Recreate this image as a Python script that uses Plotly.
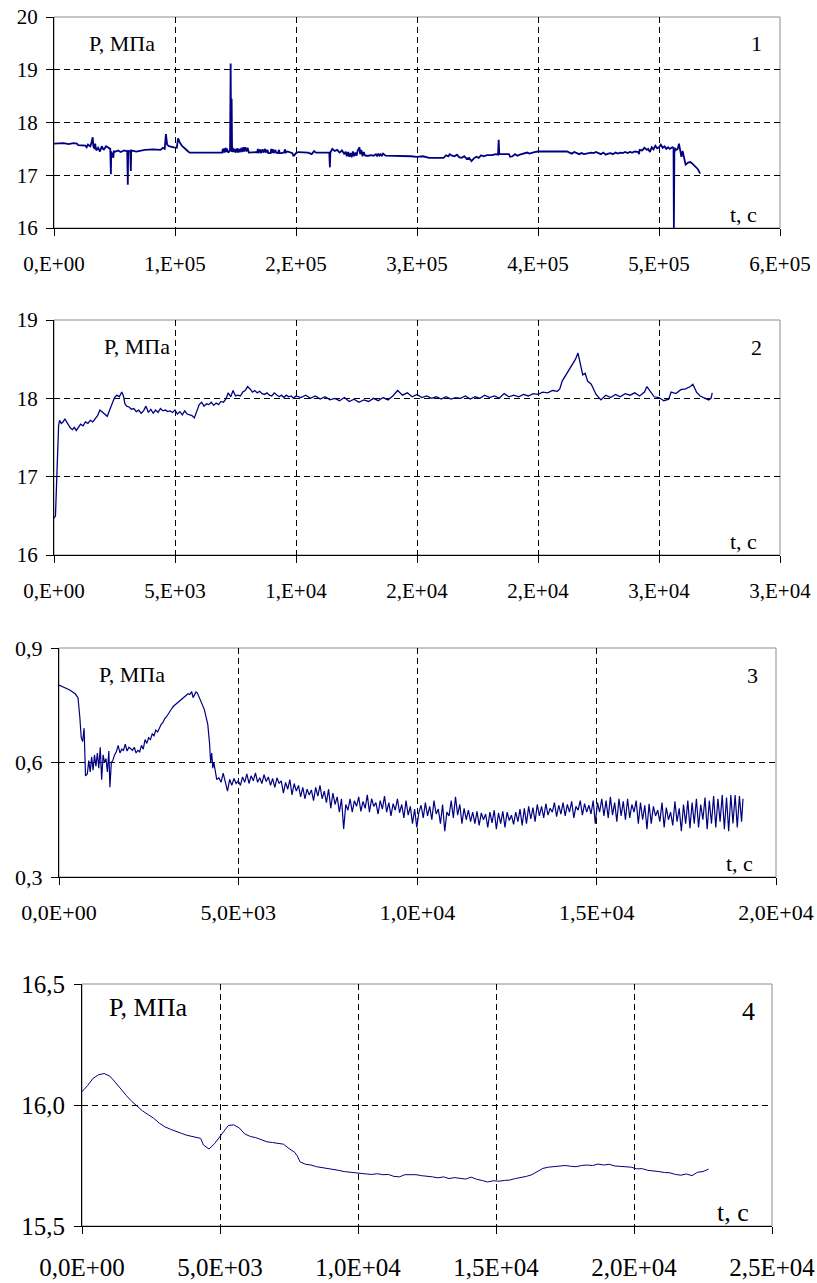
import plotly.graph_objects as go

# ---------------- data ----------------
# Chart 1: time, s / pressure, MPa
T1 = [0, 8000, 12000, 16000, 19000, 20000, 26000, 27000, 28000, 30000,
      31000, 32000, 32500, 33500, 34000, 35000, 36500, 38000, 39500, 41000,
      43000, 45000, 46500, 47000, 47300, 48500, 49000, 49500, 51000, 53000,
      55000, 58000, 60500, 61000, 61300, 63000, 63500, 63800, 68000, 75000,
      82000, 88000, 90000, 91500, 92500, 93500, 95000, 99000, 101500, 102500,
      104000, 106000, 108000, 110000, 112000, 120000, 130000, 139000, 139500, 140000,
      140500, 141000, 142000, 142500, 143000, 144000, 145500, 146000, 146400, 146800,
      147200, 148000, 148500, 149500, 150000, 151500, 152000, 153000, 153500, 155000,
      155500, 156500, 157000, 158000, 159000, 160000, 161000, 165000, 168000, 168500,
      169000, 170500, 171000, 172500, 173000, 174500, 175000, 176500, 177000, 179000,
      179500, 180000, 181000, 181500, 183000, 183500, 185000, 186000, 186500, 188000,
      190000, 191000, 191500, 193000, 195000, 197000, 198000, 200000, 202000, 206000,
      210000, 213000, 215000, 216500, 219000, 223000, 227500, 228000, 228400, 230000,
      232000, 234000, 236000, 238000, 240000, 241000, 242000, 243000, 244000, 245000,
      246000, 247000, 248000, 249000, 250000, 251000, 252000, 252500, 253000, 254000,
      255000, 256000, 257000, 258000, 260000, 262000, 264000, 266000, 267000, 268000,
      269000, 270000, 271000, 272000, 274000, 276000, 280000, 286000, 290000, 295000,
      300000, 305000, 310000, 318000, 322000, 324000, 326000, 327000, 329000, 331000,
      333000, 335000, 337000, 339000, 341000, 343000, 345000, 347000, 349000, 351000,
      353000, 355000, 358000, 362000, 365000, 367000, 367500, 368000, 372000, 376000,
      377000, 379000, 381000, 383000, 385000, 387000, 389000, 391000, 393000, 395000,
      397000, 400000, 405000, 410000, 415000, 420000, 424000, 426000, 428000, 430000,
      432000, 434000, 436000, 438000, 440000, 442000, 444000, 446000, 448000, 450000,
      452000, 454000, 456000, 458000, 460000, 462000, 464000, 466000, 468000, 470000,
      472000, 474000, 476000, 478000, 480000, 483000, 483500, 484000, 486000, 488000,
      490000, 491000, 492500, 494000, 495500, 497000, 498500, 500000, 501500, 503000,
      504500, 506000, 507500, 509000, 511000, 512000, 512300, 512700, 513500, 514500,
      515500, 516500, 517500, 518500, 519500, 521000, 522000, 524000, 526000, 528000,
      530000, 532000, 534000]
P1 = [17.60, 17.61, 17.59, 17.61, 17.60, 17.57, 17.56, 17.53, 17.58, 17.55,
      17.62, 17.72, 17.55, 17.50, 17.60, 17.47, 17.52, 17.45, 17.55, 17.48,
      17.55, 17.52, 17.50, 17.02, 17.45, 17.38, 17.33, 17.45, 17.45, 17.47,
      17.44, 17.47, 17.45, 16.82, 17.46, 17.45, 17.08, 17.47, 17.45, 17.48,
      17.49, 17.48, 17.52, 17.50, 17.78, 17.58, 17.55, 17.53, 17.52, 17.70,
      17.62, 17.55, 17.50, 17.47, 17.43, 17.43, 17.43, 17.43, 17.50, 17.43,
      17.51, 17.43, 17.52, 17.44, 17.50, 17.43, 17.47, 19.12, 17.45, 18.45,
      17.44, 17.52, 17.44, 17.50, 17.43, 17.51, 17.43, 17.50, 17.44, 17.52,
      17.44, 17.53, 17.45, 17.53, 17.45, 17.52, 17.43, 17.43, 17.44, 17.50,
      17.42, 17.49, 17.42, 17.49, 17.43, 17.50, 17.43, 17.48, 17.42, 17.42,
      17.50, 17.43, 17.49, 17.42, 17.48, 17.43, 17.42, 17.48, 17.42, 17.42,
      17.43, 17.49, 17.43, 17.45, 17.43, 17.42, 17.36, 17.42, 17.44, 17.43,
      17.43, 17.40, 17.46, 17.43, 17.43, 17.43, 17.43, 17.15, 17.43, 17.50,
      17.46, 17.48, 17.43, 17.47, 17.40, 17.45, 17.36, 17.44, 17.35, 17.42,
      17.34, 17.45, 17.36, 17.43, 17.37, 17.47, 17.50, 17.53, 17.40, 17.48,
      17.36, 17.44, 17.38, 17.37, 17.37, 17.38, 17.37, 17.40, 17.36, 17.41,
      17.37, 17.40, 17.37, 17.41, 17.37, 17.37, 17.36, 17.37, 17.37, 17.36,
      17.35, 17.36, 17.33, 17.33, 17.33, 17.38, 17.36, 17.40, 17.37, 17.36,
      17.39, 17.34, 17.33, 17.36, 17.31, 17.33, 17.27, 17.32, 17.35, 17.33,
      17.38, 17.36, 17.38, 17.38, 17.40, 17.39, 17.67, 17.40, 17.40, 17.40,
      17.35, 17.36, 17.40, 17.37, 17.39, 17.40, 17.42, 17.43, 17.41, 17.43,
      17.44, 17.45, 17.45, 17.45, 17.45, 17.45, 17.45, 17.43, 17.41, 17.44,
      17.42, 17.40, 17.42, 17.40, 17.41, 17.42, 17.43, 17.42, 17.44, 17.42,
      17.40, 17.43, 17.39, 17.41, 17.42, 17.40, 17.43, 17.41, 17.43, 17.42,
      17.44, 17.42, 17.44, 17.43, 17.45, 17.44, 17.40, 17.48, 17.47, 17.52,
      17.48, 17.50, 17.44, 17.53, 17.49, 17.56, 17.51, 17.53, 17.58, 17.52,
      17.55, 17.50, 17.53, 17.50, 17.53, 17.52, 16.00, 17.43, 17.50, 17.48,
      17.50, 17.60, 17.42, 17.35, 17.46, 17.28, 17.20, 17.24, 17.25, 17.21,
      17.17, 17.12, 17.03]

# Chart 2
T2 = [0, 60, 100, 130, 160, 190, 230, 300, 380, 450,
      520, 600, 680, 760, 840, 920, 1000, 1100, 1200, 1300,
      1400, 1500, 1600, 1700, 1800, 1900, 2000, 2100, 2200, 2300,
      2400, 2500, 2600, 2700, 2800, 2870, 2930, 3000, 3100, 3200,
      3300, 3400, 3500, 3600, 3700, 3800, 3900, 4000, 4100, 4200,
      4300, 4400, 4500, 4600, 4700, 4800, 4900, 5000, 5100, 5200,
      5300, 5400, 5500, 5600, 5700, 5800, 5900, 6000, 6100, 6200,
      6300, 6400, 6500, 6600, 6700, 6800, 6900, 7000, 7100, 7200,
      7300, 7400, 7500, 7600, 7700, 7800, 7900, 8000, 8100, 8200,
      8300, 8400, 8500, 8600, 8700, 8800, 8900, 9000, 9100, 9200,
      9300, 9400, 9500, 9600, 9700, 9800, 9900, 10000,
      10200, 10400, 10600, 10800, 11000, 11200, 11400, 11600, 11800, 12000,
      12200, 12400, 12600, 12800, 13000, 13200, 13400, 13600, 13800, 14000,
      14200, 14400, 14600, 14800, 15000, 15200, 15400, 15600, 15800, 16000,
      16200, 16400, 16600, 16800, 17000, 17200, 17400, 17600, 17800, 18000,
      18200, 18400, 18600, 18800, 19000, 19200, 19400, 19600, 19800, 20000,
      20200, 20400, 20600, 20800, 20900, 21000, 21200, 21400, 21550, 21650,
      21750, 21850, 21950, 22050, 22200, 22400, 22600, 22800, 23000, 23200,
      23400, 23600, 23800, 24000, 24200, 24400, 24500, 24650, 24800, 25000,
      25200, 25400, 25500, 25700, 25900, 26100, 26300, 26400, 26550, 26700,
      26900, 27050, 27150, 27200]
P2 = [16.47, 16.50, 16.85, 17.10, 17.25, 17.65, 17.72, 17.68, 17.70, 17.74,
      17.70, 17.66, 17.62, 17.60, 17.63, 17.59, 17.62, 17.67, 17.65, 17.70,
      17.68, 17.72, 17.70, 17.74, 17.78, 17.85, 17.82, 17.79, 17.77, 17.85,
      17.92, 18.01, 18.04, 18.02, 18.08, 18.03, 17.93, 17.90, 17.89, 17.86,
      17.87, 17.83, 17.85, 17.81, 17.84, 17.90, 17.82, 17.86, 17.81, 17.85,
      17.82, 17.87, 17.84, 17.85, 17.83, 17.84, 17.82, 17.85, 17.80, 17.83,
      17.79, 17.84, 17.80, 17.79, 17.78, 17.75, 17.84, 17.92, 17.95, 17.90,
      17.93, 17.92, 17.95, 17.91, 17.94, 17.92, 17.96, 17.95, 17.99, 18.07,
      18.02, 18.10, 18.03, 18.04, 18.03, 18.08, 18.10, 18.15, 18.12, 18.08,
      18.10, 18.07, 18.09, 18.06, 18.05, 18.07, 18.04, 18.03, 18.07, 18.05,
      18.02, 18.04, 18.01, 18.04, 18.02, 18.03, 18.00, 18.03,
      18.01, 18.04, 18.00, 18.03, 17.99, 18.02, 17.98, 18.00, 17.97, 18.01,
      17.96, 17.99, 17.95, 17.98, 17.96, 18.00, 17.97, 18.01, 17.98, 18.03,
      18.10, 18.04, 18.07, 18.02, 18.05, 18.01, 18.03, 18.00, 18.02, 17.99,
      18.02, 17.99, 18.01, 18.00, 18.03, 17.99, 18.02, 18.00, 18.04, 18.01,
      18.03, 18.00, 18.06, 18.02, 18.04, 18.02, 18.05, 18.03, 18.06, 18.05,
      18.08, 18.07, 18.10, 18.09, 18.12, 18.22, 18.32, 18.42, 18.50, 18.58,
      18.45, 18.30, 18.32, 18.22, 18.18, 18.05, 17.98, 18.04, 18.01, 18.05,
      18.02, 18.06, 18.04, 18.07, 18.03, 18.08, 18.15, 18.09, 18.02, 18.01,
      17.97, 17.99, 18.08, 18.06, 18.11, 18.12, 18.15, 18.18, 18.08, 18.03,
      18.00, 17.98, 18.00, 18.07]

# Chart 3
T3 = [0, 150, 300, 450, 530, 580, 620, 660, 700, 740,
      790, 830, 870, 910, 950, 990, 1030, 1070, 1110, 1150,
      1190, 1230, 1270, 1310, 1350, 1390, 1420, 1460, 1500, 1550,
      1600, 1650, 1700, 1750, 1800, 1850, 1900, 1950, 2000, 2050,
      2100, 2150, 2200, 2250, 2300, 2350, 2400, 2450, 2500, 2550,
      2600, 2650, 2700, 2750, 2800, 2850, 2900, 2950, 3000, 3050,
      3100, 3150, 3200, 3250, 3300, 3350, 3400, 3450, 3500, 3550,
      3600, 3650, 3700, 3740, 3780, 3820, 3860, 3900, 3950, 4000,
      4050, 4100, 4150, 4200, 4230, 4260, 4290, 4320, 4360, 4400,
      4460, 4520, 4580, 4640, 4700, 4760, 4820, 4880, 4940, 5000,
      5060, 5120, 5180, 5240, 5300, 5360, 5420, 5480, 5540, 5600,
      5660, 5720, 5780, 5840, 5900, 5960, 6020, 6080, 6140, 6200,
      6260, 6320, 6380, 6440, 6500, 6560, 6620, 6680, 6740, 6800,
      6860, 6920, 6980, 7040, 7100, 7160, 7220, 7280, 7340, 7400,
      7460, 7520, 7580, 7640, 7700, 7760, 7820, 7880, 7940, 8000,
      8060, 8120, 8180, 8240, 8300, 8360, 8420, 8480, 8540, 8600,
      8660, 8720, 8780, 8840, 8900, 8960, 9020, 9080, 9140, 9200,
      9260, 9320, 9380, 9440, 9500, 9560, 9620, 9680, 9740, 9800,
      9860, 9920, 9980, 10040, 10100, 10160, 10220, 10280, 10340, 10400,
      10460, 10520, 10580, 10640, 10700, 10760, 10820, 10880, 10940, 11000,
      11060, 11120, 11180, 11240, 11300, 11360, 11420, 11480, 11540, 11600,
      11660, 11720, 11780, 11840, 11900, 11960, 12020, 12080, 12140, 12200,
      12260, 12320, 12380, 12440, 12500, 12560, 12620, 12680, 12740, 12800,
      12860, 12920, 12980, 13040, 13100, 13160, 13220, 13280, 13340, 13400,
      13460, 13520, 13580, 13640, 13700, 13760, 13820, 13880, 13940, 14000,
      14060, 14120, 14180, 14240, 14300, 14360, 14420, 14480, 14540, 14600,
      14660, 14720, 14780, 14840, 14900, 14960, 15020, 15080, 15140, 15200,
      15260, 15320, 15380, 15440, 15500, 15560, 15620, 15680, 15740, 15800,
      15860, 15920, 15980, 16040, 16100, 16160, 16220, 16280, 16340, 16400,
      16460, 16520, 16580, 16640, 16700, 16760, 16820, 16880, 16940, 17000,
      17060, 17120, 17180, 17240, 17300, 17360, 17420, 17480, 17540, 17600,
      17660, 17720, 17780, 17840, 17900, 17960, 18020, 18080, 18140, 18200,
      18260, 18320, 18380, 18440, 18500, 18560, 18620, 18680, 18740, 18800,
      18860, 18920, 18980, 19040, 19080]
P3 = [0.803, 0.797, 0.790, 0.780, 0.770, 0.720, 0.665, 0.655, 0.690, 0.565,
      0.570, 0.605, 0.575, 0.615, 0.580, 0.620, 0.590, 0.625, 0.585, 0.640,
      0.555, 0.620, 0.600, 0.610, 0.575, 0.630, 0.535, 0.600, 0.605, 0.620,
      0.628, 0.645, 0.625, 0.635, 0.632, 0.648, 0.630, 0.640, 0.636, 0.632,
      0.640, 0.625, 0.632, 0.628, 0.645, 0.635, 0.660, 0.650, 0.665, 0.660,
      0.675, 0.670, 0.685, 0.680, 0.690, 0.700, 0.705, 0.715, 0.720, 0.728,
      0.735, 0.742, 0.748, 0.752, 0.758, 0.760, 0.765, 0.768, 0.772, 0.778,
      0.780, 0.778, 0.786, 0.770, 0.780, 0.785, 0.782, 0.772, 0.760, 0.752,
      0.740, 0.720, 0.700, 0.650, 0.600, 0.625, 0.585, 0.600, 0.570, 0.555,
      0.560, 0.548, 0.572, 0.552, 0.525, 0.556, 0.540, 0.558, 0.545, 0.552,
      0.540, 0.562, 0.548, 0.570, 0.545, 0.565, 0.552, 0.573, 0.548, 0.560,
      0.545, 0.568, 0.550, 0.562, 0.540, 0.558, 0.535, 0.560, 0.545, 0.552,
      0.520, 0.548, 0.530, 0.555, 0.515, 0.545, 0.525, 0.540, 0.510, 0.535,
      0.505, 0.530, 0.515, 0.528, 0.500, 0.535, 0.512, 0.540, 0.505, 0.525,
      0.495, 0.530, 0.480, 0.520, 0.490, 0.510, 0.470, 0.505, 0.426, 0.490,
      0.475, 0.505, 0.470, 0.500, 0.485, 0.510, 0.472, 0.498, 0.480, 0.515,
      0.470, 0.505, 0.485, 0.495, 0.465, 0.500, 0.478, 0.512, 0.470, 0.495,
      0.460, 0.492, 0.475, 0.505, 0.468, 0.490, 0.455, 0.500, 0.462, 0.485,
      0.440, 0.478, 0.430, 0.470, 0.488, 0.455, 0.495, 0.460, 0.485, 0.450,
      0.500, 0.465, 0.478, 0.440, 0.490, 0.420, 0.470, 0.460, 0.500, 0.455,
      0.510, 0.462, 0.490, 0.440, 0.480, 0.450, 0.475, 0.445, 0.470, 0.440,
      0.472, 0.435, 0.468, 0.450, 0.465, 0.430, 0.470, 0.442, 0.475, 0.425,
      0.468, 0.440, 0.472, 0.430, 0.470, 0.448, 0.462, 0.438, 0.470, 0.445,
      0.478, 0.435, 0.480, 0.440, 0.485, 0.452, 0.482, 0.445, 0.490, 0.460,
      0.485, 0.455, 0.492, 0.462, 0.480, 0.470, 0.495, 0.458, 0.488, 0.465,
      0.495, 0.460, 0.490, 0.470, 0.498, 0.455, 0.485, 0.475, 0.500, 0.462,
      0.492, 0.470, 0.488, 0.465, 0.500, 0.440, 0.495, 0.470, 0.505, 0.460,
      0.500, 0.455, 0.510, 0.462, 0.495, 0.445, 0.505, 0.460, 0.498, 0.450,
      0.505, 0.455, 0.490, 0.470, 0.500, 0.440, 0.495, 0.450, 0.488, 0.425,
      0.492, 0.440, 0.485, 0.460, 0.475, 0.445, 0.495, 0.430, 0.482, 0.450,
      0.470, 0.435, 0.498, 0.445, 0.480, 0.420, 0.490, 0.440, 0.500, 0.428,
      0.495, 0.440, 0.505, 0.430, 0.490, 0.450, 0.508, 0.425, 0.500, 0.440,
      0.512, 0.430, 0.505, 0.445, 0.515, 0.425, 0.508, 0.420, 0.515, 0.440,
      0.515, 0.430, 0.512, 0.445, 0.505]

# Chart 4
T4 = [0, 200, 400, 600, 800, 1000, 1200, 1400, 1600, 1800,
      2000, 2200, 2400, 2600, 2800, 3000, 3200, 3400, 3600, 3800,
      4000, 4200, 4300, 4400, 4600, 4800, 5000, 5200, 5300, 5500,
      5700, 5900, 6100, 6300, 6500, 6700, 6900, 7100, 7300, 7500,
      7700, 7800, 7900, 8100, 8300, 8500, 8700, 8900, 9100, 9300,
      9500, 9700, 9900, 10100, 10300, 10500, 10700, 10900, 11100, 11300,
      11500, 11700, 11900, 12100, 12300, 12500, 12700, 12900, 13100, 13300,
      13500, 13700, 13900, 14100, 14300, 14500, 14700, 14900, 15100, 15300,
      15500, 15700, 15900, 16100, 16300, 16500, 16700, 16900, 17100, 17300,
      17500, 17700, 17900, 18100, 18300, 18500, 18700, 18900, 19100, 19300,
      19500, 19700, 19900, 20100, 20300, 20500, 20700, 20900, 21100, 21300,
      21500, 21700, 21900, 22100, 22300, 22500, 22700]
P4 = [16.055, 16.080, 16.110, 16.125, 16.130, 16.120, 16.095, 16.065, 16.040, 16.015,
      15.995, 15.975, 15.960, 15.945, 15.925, 15.910, 15.900, 15.890, 15.883, 15.875,
      15.870, 15.865, 15.862, 15.835, 15.818, 15.840, 15.870, 15.895, 15.915, 15.918,
      15.905, 15.880, 15.870, 15.865, 15.858, 15.848, 15.845, 15.843, 15.838, 15.820,
      15.805, 15.790, 15.765, 15.755, 15.752, 15.745, 15.742, 15.738, 15.733, 15.730,
      15.725, 15.722, 15.718, 15.717, 15.715, 15.713, 15.716, 15.712, 15.713, 15.705,
      15.703, 15.712, 15.713, 15.712, 15.708, 15.707, 15.703, 15.699, 15.703, 15.696,
      15.700, 15.697, 15.694, 15.702, 15.693, 15.688, 15.682, 15.687, 15.685, 15.688,
      15.690, 15.696, 15.700, 15.705, 15.712, 15.725, 15.738, 15.743, 15.745, 15.748,
      15.750, 15.747, 15.745, 15.750, 15.752, 15.750, 15.756, 15.752, 15.755, 15.748,
      15.746, 15.742, 15.743, 15.736, 15.737, 15.730, 15.729, 15.725, 15.721, 15.720,
      15.713, 15.710, 15.715, 15.708, 15.722, 15.725, 15.735]

# Tick labels
X1_TICKS = [0, 100000, 200000, 300000, 400000, 500000, 600000]
X1_TEXT = ["0,E+00", "1,E+05", "2,E+05", "3,E+05", "4,E+05", "5,E+05", "6,E+05"]
X2_TICKS = [0, 5000, 10000, 15000, 20000, 25000, 30000]
X2_TEXT = ["0,E+00", "5,E+03", "1,E+04", "2,E+04", "2,E+04", "3,E+04", "3,E+04"]
X3_TICKS = [0, 5000, 10000, 15000, 20000]
X3_TEXT = ["0,0E+00", "5,0E+03", "1,0E+04", "1,5E+04", "2,0E+04"]
X4_TICKS = [0, 5000, 10000, 15000, 20000, 25000]
X4_TEXT = ["0,0E+00", "5,0E+03", "1,0E+04", "1,5E+04", "2,0E+04", "2,5E+04"]
Y1_TICKS = [16, 17, 18, 19, 20]
Y1_TEXT = ["16", "17", "18", "19", "20"]
Y2_TICKS = [16, 17, 18, 19]
Y2_TEXT = ["16", "17", "18", "19"]
Y3_TICKS = [0.3, 0.6, 0.9]
Y3_TEXT = ["0,3", "0,6", "0,9"]
Y4_TICKS = [15.5, 16.0, 16.5]
Y4_TEXT = ["15,5", "16,0", "16,5"]

for a, b in [(T1, P1), (T2, P2), (T3, P3), (T4, P4)]:
    if len(a) != len(b):
        raise ValueError(f"length mismatch {len(a)} vs {len(b)}")

# ---------------- figure ----------------
W, H = 817, 1283
FONT = "Liberation Serif"
LINE = "#000080"

panels = [
    dict(px=(54, 780), py=(17, 228), xr=[0, 600000], yr=[16, 20], xt=X1_TICKS, xtt=X1_TEXT,
         yt=Y1_TICKS, ytt=Y1_TEXT, fs=21, afs=22, so=10, lw=1.8, t=T1, p=P1, num="1"),
    dict(px=(54, 780), py=(320, 555), xr=[0, 30000], yr=[16, 19], xt=X2_TICKS, xtt=X2_TEXT,
         yt=Y2_TICKS, ytt=Y2_TEXT, fs=21, afs=22, so=10, lw=1.3, t=T2, p=P2, num="2"),
    dict(px=(59, 776), py=(648, 877), xr=[0, 20000], yr=[0.3, 0.9], xt=X3_TICKS, xtt=X3_TEXT,
         yt=Y3_TICKS, ytt=Y3_TEXT, fs=22, afs=22, so=9, lw=1.2, t=T3, p=P3, num="3"),
    dict(px=(82, 772), py=(984, 1226), xr=[0, 25000], yr=[15.5, 16.5], xt=X4_TICKS, xtt=X4_TEXT,
         yt=Y4_TICKS, ytt=Y4_TEXT, fs=25, afs=26, so=12, lw=1.0, t=T4, p=P4, num="4"),
]

fig = go.Figure()
layout = dict(width=W, height=H, margin=dict(l=0, r=0, t=0, b=0),
              paper_bgcolor="white", plot_bgcolor="white", showlegend=False,
              font=dict(family=FONT, color="black"))
annotations = []
shapes = []
for i, pn in enumerate(panels, start=1):
    xa = "xaxis" if i == 1 else f"xaxis{i}"
    ya = "yaxis" if i == 1 else f"yaxis{i}"
    xref = "x" if i == 1 else f"x{i}"
    yref = "y" if i == 1 else f"y{i}"
    x0, x1 = pn["px"]
    yt_, yb_ = pn["py"]
    fig.add_trace(go.Scatter(x=pn["t"], y=pn["p"], mode="lines", xaxis=xref, yaxis=yref,
                             line=dict(color=LINE, width=pn["lw"]), hoverinfo="skip"))
    grid = dict(showgrid=True, gridcolor="black", gridwidth=1, griddash="6px,4px", ticks="")
    layout[xa] = dict(domain=[x0 / W, x1 / W], anchor=yref, range=pn["xr"],
                      tickmode="array", tickvals=pn["xt"], ticktext=pn["xtt"],
                      showgrid=False, zeroline=False, showline=True, linecolor="black",
                      linewidth=1, ticks="outside", ticklen=7, tickcolor="black",
                      tickfont=dict(family=FONT, size=pn["fs"], color="black"),
                      ticklabelstandoff=pn["so"], automargin=False,
                      minor=dict(tickmode="array", tickvals=pn["xt"][1:-1], **grid))
    layout[ya] = dict(domain=[1 - yb_ / H, 1 - yt_ / H], anchor=xref, range=pn["yr"],
                      tickmode="array", tickvals=pn["yt"], ticktext=pn["ytt"],
                      showgrid=False, zeroline=False, showline=True, linecolor="black",
                      linewidth=1, ticks="outside", ticklen=7, tickcolor="black",
                      tickfont=dict(family=FONT, size=pn["fs"], color="black"),
                      ticklabelstandoff=4, automargin=False,
                      minor=dict(tickmode="array", tickvals=pn["yt"][1:-1], **grid))
    shapes.append(dict(type="rect", xref=f"{xref} domain", yref=f"{yref} domain",
                       x0=0, x1=1, y0=0, y1=1, line=dict(color="#8c8c8c", width=1),
                       layer="below"))
    afs = pn["afs"]
    annotations.append(dict(text="P, МПа", xref="paper", yref="paper",
                            x=(x0 + (33 if i == 1 else 48 if i == 2 else 38 if i == 3 else 25)) / W,
                            y=1 - (yt_ + (26 if i < 4 else 23)) / H,
                            xanchor="left", yanchor="middle", showarrow=False,
                            font=dict(family=FONT, size=afs, color="black")))
    annotations.append(dict(text=pn["num"], xref="paper", yref="paper",
                            x=(x1 - 24) / W, y=1 - (yt_ + 27) / H,
                            xanchor="center", yanchor="middle", showarrow=False,
                            font=dict(family=FONT, size=afs, color="black")))
    annotations.append(dict(text="t, с", xref="paper", yref="paper",
                            x=(x1 - 21) / W, y=1 - (yb_ - 14) / H,
                            xanchor="right", yanchor="middle", showarrow=False,
                            font=dict(family=FONT, size=afs, color="black")))

layout["annotations"] = annotations
layout["shapes"] = shapes
fig.update_layout(**layout)
fig.write_html("out.html", config={"displayModeBar": False},
               post_script="document.body.style.margin='0';document.body.style.padding='0';")
